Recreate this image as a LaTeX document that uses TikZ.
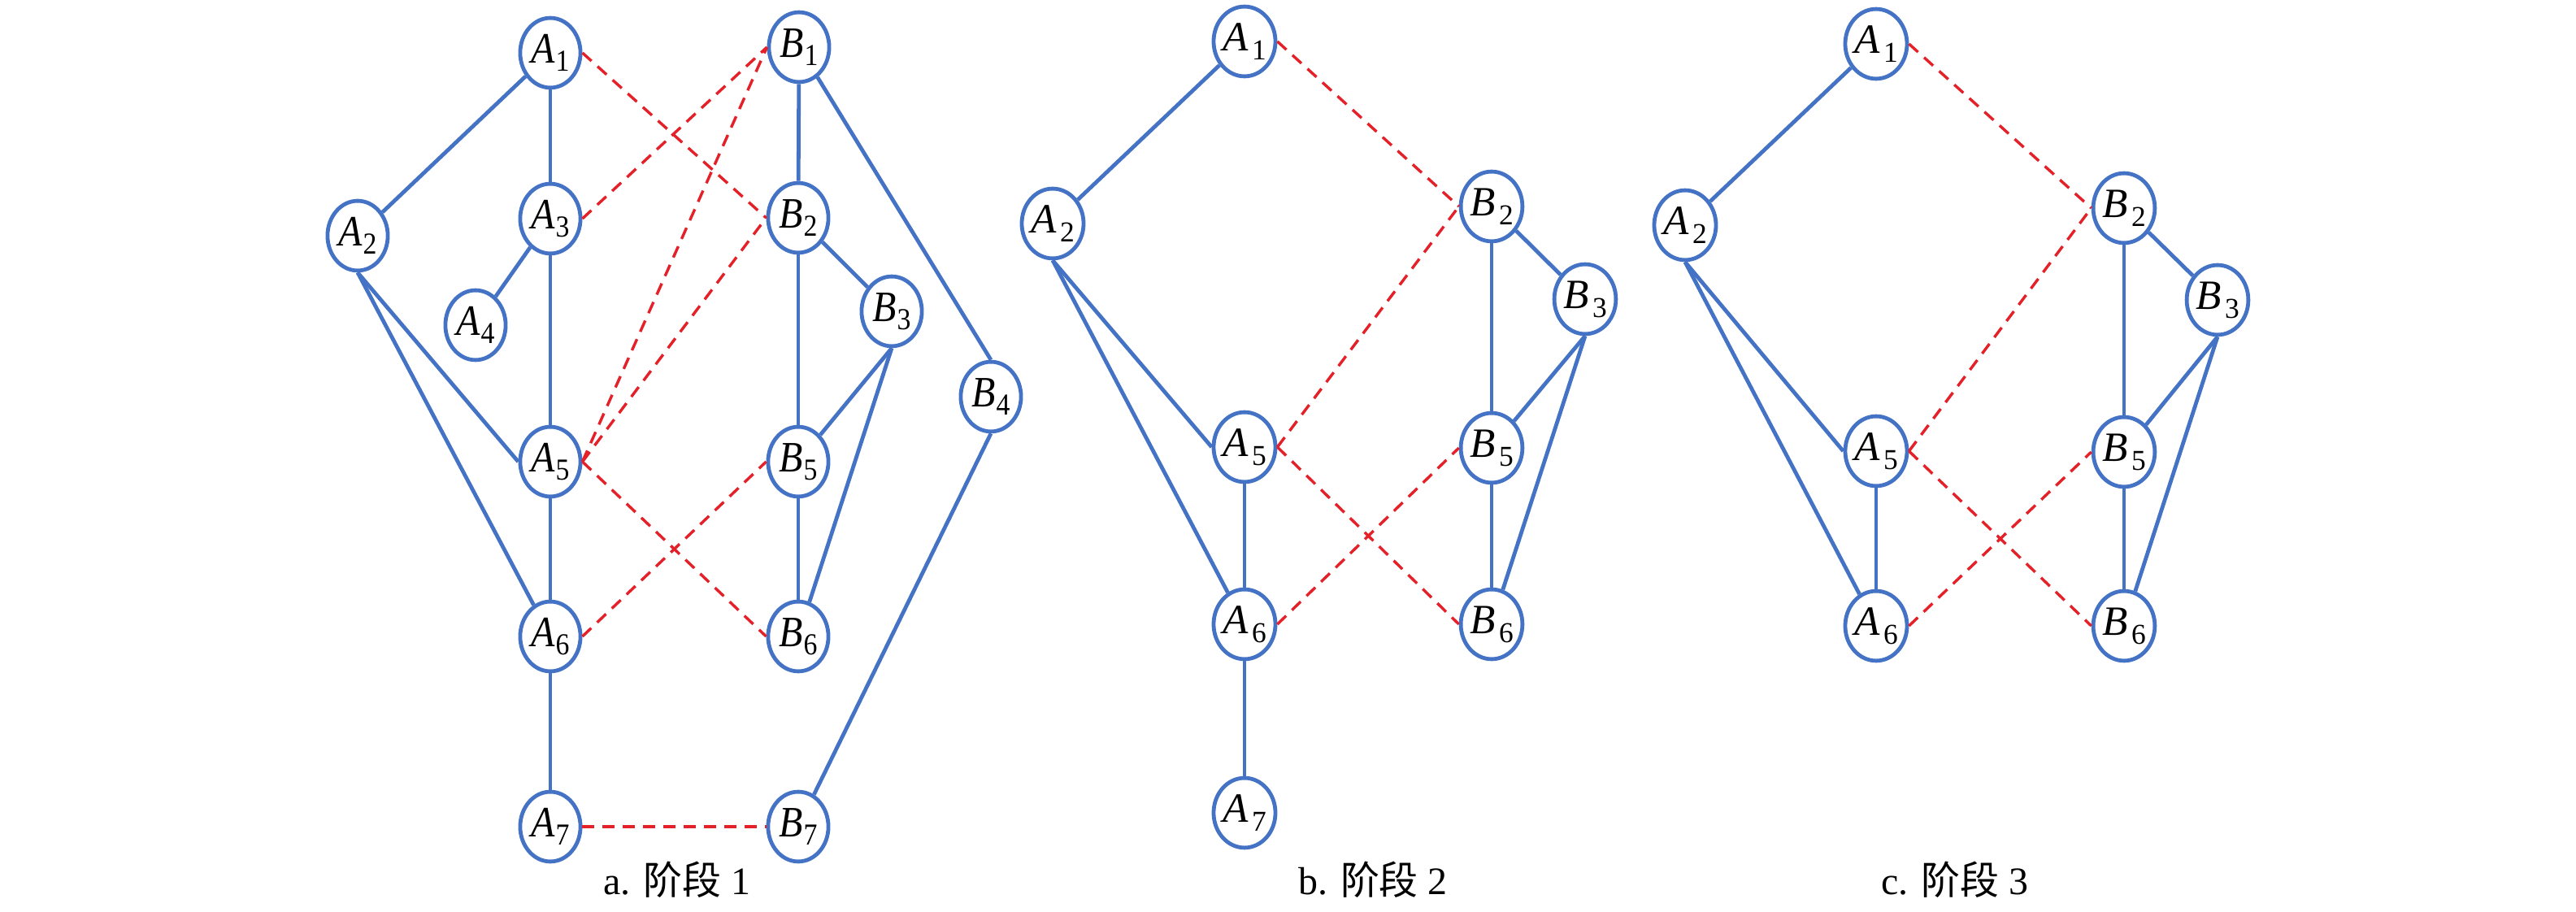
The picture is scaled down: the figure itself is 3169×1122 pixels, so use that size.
\documentclass[tikz,border=0pt]{standalone}
\usepackage{graphicx}
\usepackage{fontspec}
\setmainfont{Liberation Serif}
\newfontfamily\cjk{Noto Sans CJK SC}
\usetikzlibrary{shapes.geometric}
\definecolor{nblue}{RGB}{68,114,196}
\definecolor{ered}{RGB}{228,32,40}
\newcommand\laba[2]{\scalebox{0.9}[1]{\fontsize{12.8}{12.8}\selectfont\textit{#1}\kern0.2pt\raisebox{-2.5pt}{\fontsize{9}{9}\selectfont #2}}}
\newcommand\labb[2]{\fontsize{12.3}{12.3}\selectfont\textit{#1}\kern1.1pt\raisebox{-2.6pt}{\fontsize{8.5}{8.5}\selectfont #2}}
\tikzset{
  nd/.style={ellipse, draw=nblue, line width=1.15pt, minimum width=17.8pt, minimum height=20.6pt, inner sep=0pt},
  bl/.style={draw=nblue, line width=1.15pt},
  rd/.style={draw=ered, line width=0.82pt, dash pattern=on 3.6pt off 2.4pt},
  captxt/.style={font=\fontsize{11.5}{11.5}\selectfont, inner sep=0pt}
}
\begin{document}
\begin{tikzpicture}[x=0.24pt, y=-0.24pt]
\useasboundingbox (0,0) rectangle (3169,1122);
% ---------- panel a ----------
\node[nd] (aA1) at (677,65)  {\laba{A}{1}};
\node[nd] (aA2) at (440,290) {\laba{A}{2}};
\node[nd] (aA3) at (677,269) {\laba{A}{3}};
\node[nd] (aA4) at (585,400) {\laba{A}{4}};
\node[nd] (aA5) at (677,568) {\laba{A}{5}};
\node[nd] (aA6) at (677,783) {\laba{A}{6}};
\node[nd] (aA7) at (677,1017) {\laba{A}{7}};
\node[nd] (aB1) at (983,58)  {\laba{B}{1}};
\node[nd] (aB2) at (982,268) {\laba{B}{2}};
\node[nd] (aB3) at (1097,383) {\laba{B}{3}};
\node[nd] (aB4) at (1219,488) {\laba{B}{4}};
\node[nd] (aB5) at (982,568) {\laba{B}{5}};
\node[nd] (aB6) at (982,783) {\laba{B}{6}};
\node[nd] (aB7) at (982,1017) {\laba{B}{7}};
\node[captxt] (capa) at (833,1082) {a. {\cjk 阶段} 1};
\path[bl] (aA1) -- (aA2);
\path[bl] (aA1) -- (aA3);
\path[bl] (aA3) -- (aA4);
\path[bl] (aA3) -- (aA5);
\path[bl] (aA2.south) -- (aA5.west);
\path[bl] (aA2.south) -- (aA6);
\path[bl] (aA5) -- (aA6);
\path[bl] (aA6) -- (aA7);
\path[bl] (aB1) -- (aB2);
\path[bl] (aB1) -- (aB4.north);
\path[bl] (aB2) -- (aB3);
\path[bl] (aB2) -- (aB5);
\path[bl] (aB3.south) -- (aB5);
\path[bl] (aB3.south) -- (aB6);
\path[bl] (aB5) -- (aB6);
\path[bl] (aB4.south) -- (aB7);
\path[rd] (aA1.east) -- (aB2.west);
\path[rd] (aA3.east) -- (aB1.west);
\path[rd] (aA5.east) -- (aB1.west);
\path[rd] (aA5.east) -- (aB2.west);
\path[rd] (aA5.east) -- (aB6.west);
\path[rd] (aA6.east) -- (aB5.west);
\path[rd] (aA7.east) -- (aB7.west);
% ---------- panel b ----------
\node[nd] (bA1) at (1531,51)  {\labb{A}{1}};
\node[nd] (bA2) at (1295,275) {\labb{A}{2}};
\node[nd] (bB2) at (1835,254) {\labb{B}{2}};
\node[nd] (bB3) at (1950,368) {\labb{B}{3}};
\node[nd] (bA5) at (1531,550) {\labb{A}{5}};
\node[nd] (bB5) at (1835,551) {\labb{B}{5}};
\node[nd] (bA6) at (1531,768) {\labb{A}{6}};
\node[nd] (bB6) at (1835,768) {\labb{B}{6}};
\node[nd] (bA7) at (1531,1000) {\labb{A}{7}};
\node[captxt] (capb) at (1689,1082) {b. {\cjk 阶段} 2};
\path[bl] (bA1) -- (bA2);
\path[bl] (bA2.south) -- (bA5.west);
\path[bl] (bA2.south) -- (bA6);
\path[bl] (bA5) -- (bA6);
\path[bl] (bA6) -- (bA7);
\path[bl] (bB2) -- (bB3);
\path[bl] (bB2) -- (bB5);
\path[bl] (bB3.south) -- (bB5);
\path[bl] (bB3.south) -- (bB6);
\path[bl] (bB5) -- (bB6);
\path[rd] (bA1.east) -- (bB2.west);
\path[rd] (bA5.east) -- (bB2.west);
\path[rd] (bA5.east) -- (bB6.west);
\path[rd] (bA6.east) -- (bB5.west);
% ---------- panel c ----------
\node[nd] (cA1) at (2308,54)  {\labb{A}{1}};
\node[nd] (cA2) at (2073,277) {\labb{A}{2}};
\node[nd] (cB2) at (2613,256) {\labb{B}{2}};
\node[nd] (cB3) at (2728,369) {\labb{B}{3}};
\node[nd] (cA5) at (2308,555) {\labb{A}{5}};
\node[nd] (cB5) at (2613,556) {\labb{B}{5}};
\node[nd] (cA6) at (2308,770) {\labb{A}{6}};
\node[nd] (cB6) at (2613,770) {\labb{B}{6}};
\node[captxt] (capc) at (2405,1082) {c. {\cjk 阶段} 3};
\path[bl] (cA1) -- (cA2);
\path[bl] (cA2.south) -- (cA5.west);
\path[bl] (cA2.south) -- (cA6);
\path[bl] (cA5) -- (cA6);
\path[bl] (cB2) -- (cB3);
\path[bl] (cB2) -- (cB5);
\path[bl] (cB3.south) -- (cB5);
\path[bl] (cB3.south) -- (cB6);
\path[bl] (cB5) -- (cB6);
\path[rd] (cA1.east) -- (cB2.west);
\path[rd] (cA5.east) -- (cB2.west);
\path[rd] (cA5.east) -- (cB6.west);
\path[rd] (cA6.east) -- (cB5.west);
\end{tikzpicture}
\end{document}
